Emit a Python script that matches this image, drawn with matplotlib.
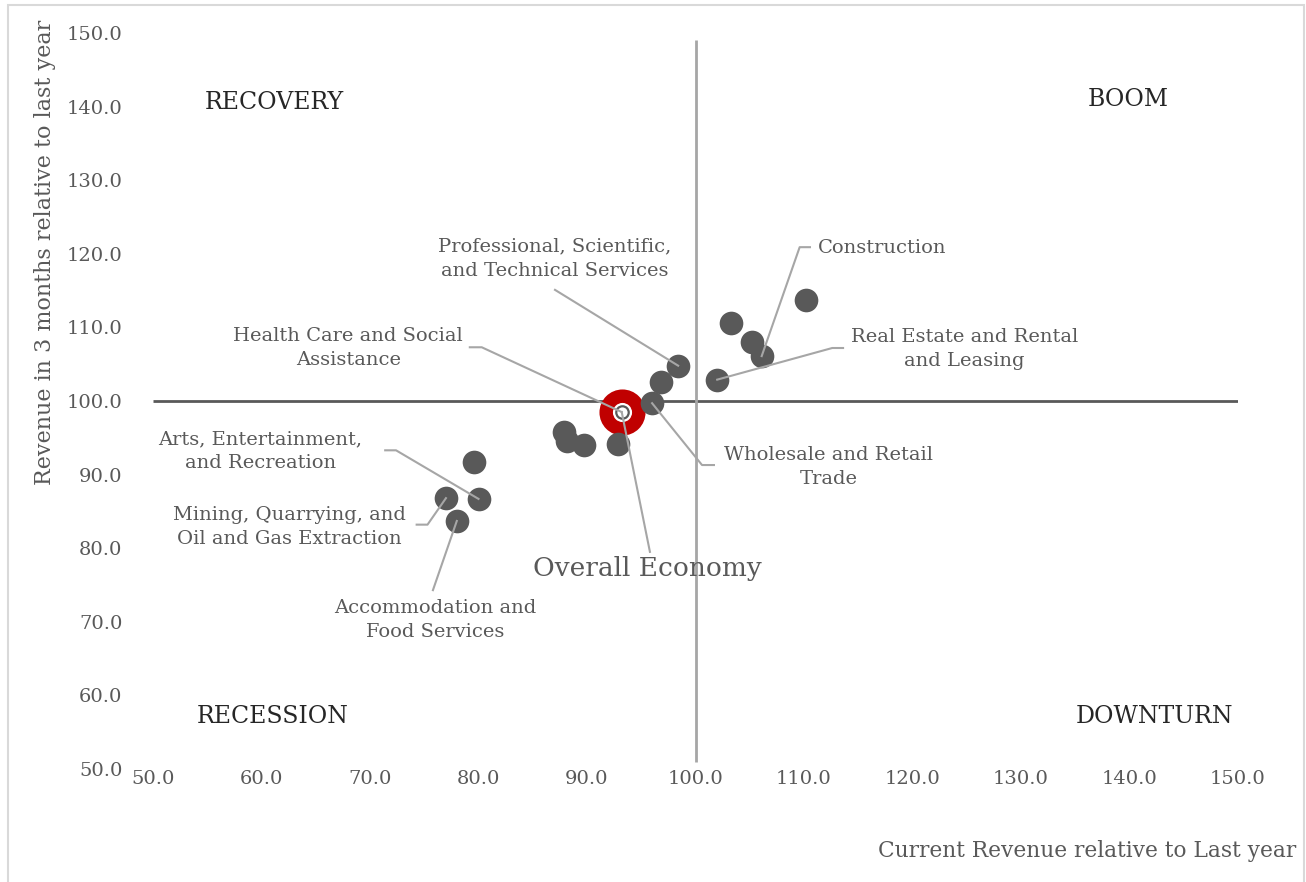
import matplotlib
matplotlib.use("Agg")
import matplotlib.pyplot as plt
from matplotlib.patches import Rectangle

# Sector positions: current revenue vs. last year (x) and expected revenue in 3 months (y)
sectors = [
    "Construction",
    "Real Estate and Rental\nand Leasing",
    "Professional, Scientific,\nand Technical Services",
    "Wholesale and Retail\nTrade",
    "Arts, Entertainment,\nand Recreation",
    "Mining, Quarrying, and\nOil and Gas Extraction",
    "Accommodation and\nFood Services",
    "", "", "", "", "", "", "", "", "",
]
current_rev = [106.1, 102.0, 98.4, 96.0, 80.0, 77.0, 78.0,
               110.2, 103.3, 105.2, 96.8, 92.9, 87.9, 88.2, 89.7, 79.6]
future_rev = [106.1, 102.9, 104.8, 99.7, 86.7, 86.8, 83.7,
              113.7, 110.6, 108.0, 102.6, 94.2, 95.8, 94.6, 94.0, 91.7]

overall_label = "Overall Economy"
overall_x = 93.2
overall_y = 98.5
health_label = "Health Care and Social\nAssistance"

x_ticks = [50, 60, 70, 80, 90, 100, 110, 120, 130, 140, 150]
y_ticks = [50, 60, 70, 80, 90, 100, 110, 120, 130, 140, 150]

quadrants = ["RECOVERY", "BOOM", "RECESSION", "DOWNTURN"]

TXT = "#595959"
LEAD = "#A6A6A6"
FONT = "DejaVu Serif"
plt.rcParams["font.family"] = FONT

fig = plt.figure(figsize=(13.06, 8.82), dpi=100)
ax = fig.add_axes([153 / 1306, 1 - 769 / 882, (1238 - 153) / 1306, (769 - 33) / 882])
ax.set_xlim(50, 150)
ax.set_ylim(50, 150)

for s in ax.spines.values():
    s.set_visible(False)

ax.set_xticks(x_ticks)
ax.set_yticks(y_ticks)
ax.set_xticklabels([f"{v:.1f}" for v in x_ticks])
ax.set_yticklabels([f"{v:.1f}" for v in y_ticks])
ax.tick_params(axis="both", length=0, labelsize=14, labelcolor=TXT)
ax.tick_params(axis="y", pad=22)
ax.tick_params(axis="x", pad=1)

# quadrant dividers
ax.plot([50, 150], [100, 100], color="#595959", lw=2, zorder=1, solid_capstyle="butt")
ax.plot([100, 100], [51, 149], color=LEAD, lw=2, zorder=1, solid_capstyle="butt")

# overall economy marker
ax.scatter([overall_x], [overall_y], s=1100, color="#C00000", zorder=2, linewidths=0)
ax.scatter([overall_x], [overall_y], s=190, color="white", zorder=2.1, linewidths=0)
ax.scatter([overall_x], [overall_y], s=80, facecolor="white", edgecolor="#595959",
           linewidths=1.6, zorder=2.2)

# sector dots
ax.scatter(current_rev, future_rev, s=290, color="#595959", zorder=3, linewidths=0)

# label placement: text position, alignment and leader path toward the dot
label_layout = {
    0: dict(tx=111.3, ty=120.8, ha="left", path=[(110.55, 120.9), (109.6, 120.9)]),
    1: dict(tx=124.8, ty=107.1, ha="center", path=[(113.6, 107.2), (112.6, 107.2)]),
    2: dict(tx=87.0, ty=119.3, ha="center", path=[(87.05, 115.1)]),
    3: dict(tx=112.3, ty=91.0, ha="center", path=[(101.7, 91.3), (100.6, 91.3)]),
    4: dict(tx=59.9, ty=93.2, ha="center", path=[(71.4, 93.3), (72.4, 93.3)]),
    5: dict(tx=62.6, ty=82.9, ha="center", path=[(74.3, 83.2), (75.3, 83.2)]),
    6: dict(tx=76.0, ty=70.2, ha="center", path=[(75.8, 74.3)]),
}

for i, lay in label_layout.items():
    pts = lay["path"] + [(current_rev[i], future_rev[i])]
    ax.plot([p[0] for p in pts], [p[1] for p in pts], color=LEAD, lw=1.5, zorder=4)
    ax.text(lay["tx"], lay["ty"], sectors[i], ha=lay["ha"], va="center",
            fontsize=14, color=TXT, linespacing=1.45, zorder=5)

# Health care label points to the overall marker position
hc = [(79.2, 107.3), (80.3, 107.3), (overall_x, overall_y)]
ax.plot([p[0] for p in hc], [p[1] for p in hc], color=LEAD, lw=1.5, zorder=4)
ax.text(68.0, 107.2, health_label, ha="center", va="center", fontsize=14,
        color=TXT, linespacing=1.45, zorder=5)

ov = [(95.8, 79.5), (overall_x, overall_y)]
ax.plot([p[0] for p in ov], [p[1] for p in ov], color=LEAD, lw=1.5, zorder=4)
ax.text(95.6, 77.2, overall_label, ha="center", va="center", fontsize=19,
        color=TXT, zorder=5)

# quadrant names
quad_pos = [(61.2, 140.5), (139.9, 140.9), (61.0, 57.2), (142.3, 57.2)]
for name, (qx, qy) in zip(quadrants, quad_pos):
    ax.text(qx, qy, name, ha="center", va="center", fontsize=17, color="#262626")

fig.text(45 / 1306, 1 - 20 / 882, "Revenue in 3 months relative to last year",
         rotation=90, ha="center", va="top", fontsize=16, color=TXT)
fig.text(1296 / 1306, 1 - 851 / 882, "Current Revenue relative to Last year",
         ha="right", va="center", fontsize=15.7, color=TXT)

fig.patches.append(Rectangle((8 / 1306, -0.02), (1304 - 8) / 1306, 1 - 5 / 882 + 0.02,
                             transform=fig.transFigure, fill=False,
                             edgecolor="#D9D9D9", lw=1.5))

fig.savefig("out.png", dpi=100, facecolor="white")
